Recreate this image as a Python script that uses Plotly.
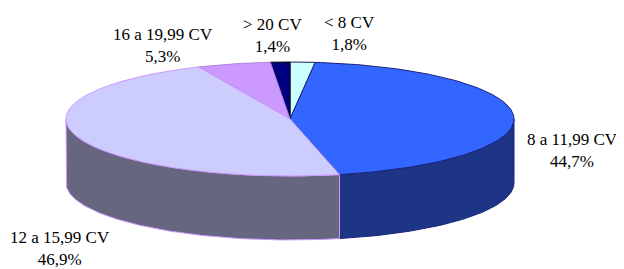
import numpy as np
import plotly.graph_objects as go

# ---- data ----
categories = ["< 8 CV", "8 a 11,99 CV", "12 a 15,99 CV", "16 a 19,99 CV", "> 20 CV"]
values = [1.8, 44.7, 46.9, 5.3, 1.4]
pct_labels = ["1,8%", "44,7%", "46,9%", "5,3%", "1,4%"]

# ---- styles ----
top_colors = ["#CCFFFF", "#3366FF", "#CCCCFF", "#CC99FF", "#000080"]
side_colors = ["#669999", "#1E3585", "#666680", "#8A5FB0", "#000040"]
edge_colors = ["#1A1A60", "#1A237E", "#CC99FF", "#B080E0", "#000000"]
label_pos = [(349, 33), (572, 150), (60, 248), (163, 45), (272, 35)]

W, H = 624, 269
OFF = 8  # default page body margin
cx, cy, rx, ry, depth = 290, 119, 224, 57, 64

total = sum(values)
bounds = np.concatenate([[0], np.cumsum(values) / total * 360.0])


def arc(a0, a1, dy=0.0, n=120):
    t = np.radians(np.linspace(a0, a1, n))
    return cx + rx * np.sin(t), cy - ry * np.cos(t) + dy


fig = go.Figure()

# side walls (front half: 90..270 deg, clockwise from top)
for i in range(len(values)):
    a0, a1 = max(bounds[i], 90), min(bounds[i + 1], 270)
    if a1 <= a0:
        continue
    xt, yt = arc(a0, a1)
    xb, yb = arc(a0, a1, depth)
    xs = np.concatenate([xt, xb[::-1], xt[:1]])
    ys = np.concatenate([yt, yb[::-1], yt[:1]])
    fig.add_trace(go.Scatter(x=xs, y=ys, mode="lines", fill="toself",
                             fillcolor=side_colors[i],
                             line=dict(color=edge_colors[i], width=1),
                             hoverinfo="skip", showlegend=False))

# top faces (draw order so lavender outline sits over neighbour)
order = [0, 4, 3, 1, 2]
for i in order:
    xa, ya = arc(bounds[i], bounds[i + 1])
    xs = np.concatenate([[cx], xa, [cx]])
    ys = np.concatenate([[cy], ya, [cy]])
    fig.add_trace(go.Scatter(x=xs, y=ys, mode="lines", fill="toself",
                             fillcolor=top_colors[i],
                             line=dict(color=edge_colors[i], width=1),
                             hoverinfo="skip", showlegend=False))

# labels
for i, (lx, ly) in enumerate(label_pos):
    fig.add_annotation(x=lx, y=ly, text=categories[i] + "<br>" + pct_labels[i],
                       showarrow=False, xanchor="center", yanchor="middle",
                       font=dict(family="Liberation Serif", size=17, color="#000000"),
                       align="center")

fig.update_layout(
    width=W - OFF, height=H - OFF,
    margin=dict(l=0, r=0, t=0, b=0),
    paper_bgcolor="white", plot_bgcolor="white",
    xaxis=dict(range=[OFF, W], visible=False, fixedrange=True),
    yaxis=dict(range=[H, OFF], visible=False, fixedrange=True),
    showlegend=False,
)

fig.write_html("out.html")
